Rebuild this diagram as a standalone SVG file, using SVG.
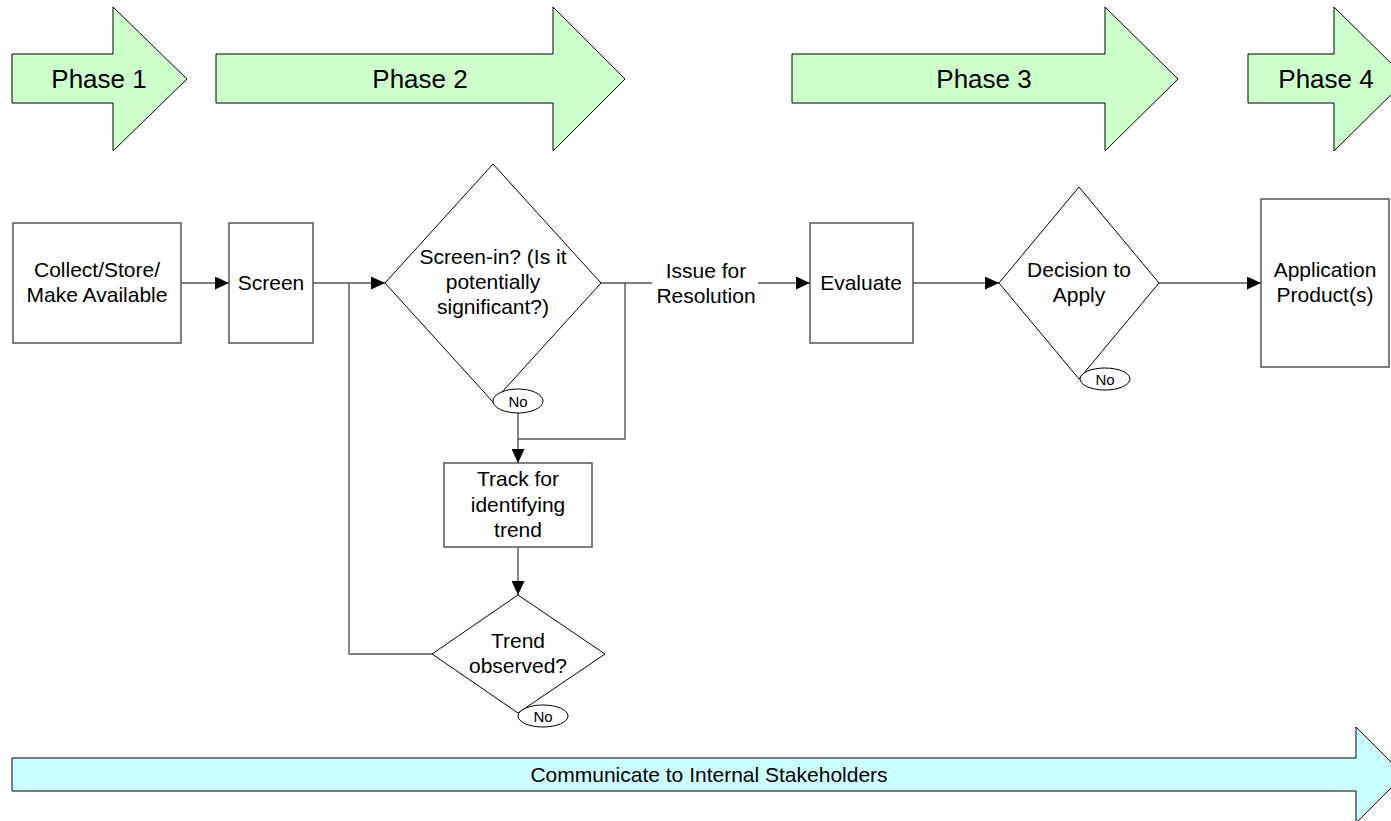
<svg xmlns="http://www.w3.org/2000/svg" width="1391" height="821" viewBox="0 0 1391 821">
  <defs>
    <marker id="ah" markerUnits="userSpaceOnUse" markerWidth="14" markerHeight="13" refX="14" refY="6.5" orient="auto">
      <path d="M0,0 L14,6.5 L0,13 z" fill="#000"/>
    </marker>
    <style>
      text { font-family: "Liberation Sans", Arial, sans-serif; fill: #000; text-anchor: middle; }
      .phase { fill: #ccffcc; stroke: #000; stroke-width: 1; }
      .comm { fill: #ccffff; stroke: #000; stroke-width: 1; }
      .box { fill: #fff; stroke: #555; stroke-width: 1.5; }
      .dia { fill: #fff; stroke: #000; stroke-width: 1; }
      .oval { fill: #fff; stroke: #000; stroke-width: 1; }
      .ph { font-size: 26px; }
      .nt { font-size: 21px; }
      .no { font-size: 15px; }
      .ln { fill: none; stroke: #555; stroke-width: 1.4; }
    </style>
  </defs>
  <rect width="1391" height="821" fill="#fff"/>

  <g id="phase1">
    <polygon class="phase" points="12,54 113,54 113,7 187,79 113,151 113,103 12,103"/>
    <text class="ph" x="99" y="88">Phase 1</text>
  </g>
  <g id="phase2">
    <polygon class="phase" points="216,54 553,54 553,7 625,79 553,151 553,103 216,103"/>
    <text class="ph" x="420" y="88">Phase 2</text>
  </g>
  <g id="phase3">
    <polygon class="phase" points="792,54 1105,54 1105,7 1178,79 1105,151 1105,103 792,103"/>
    <text class="ph" x="984" y="88">Phase 3</text>
  </g>
  <g id="phase4">
    <polygon class="phase" points="1248,54 1334,54 1334,7 1407,79 1334,151 1334,103 1248,103"/>
    <text class="ph" x="1326" y="88">Phase 4</text>
  </g>

  <g id="connectors">
    <line class="ln" x1="181" y1="283" x2="229" y2="283" marker-end="url(#ah)"/>
    <line class="ln" x1="313" y1="283" x2="385" y2="283" marker-end="url(#ah)"/>
    <polyline class="ln" points="432,654 349,654 349,283"/>
    <line class="ln" x1="601" y1="283" x2="652" y2="283"/>
    <line class="ln" x1="758" y1="283" x2="810" y2="283" marker-end="url(#ah)"/>
    <polyline class="ln" points="625,283 625,439 518,439"/>
    <line class="ln" x1="518" y1="413" x2="518" y2="463" marker-end="url(#ah)"/>
    <line class="ln" x1="518" y1="547" x2="518" y2="595" marker-end="url(#ah)"/>
    <line class="ln" x1="913" y1="283" x2="999" y2="283" marker-end="url(#ah)"/>
    <line class="ln" x1="1159" y1="283" x2="1261" y2="283" marker-end="url(#ah)"/>
    <text class="nt" x="706" y="278">Issue for</text>
    <text class="nt" x="706" y="303">Resolution</text>
  </g>

  <g id="collect">
    <rect class="box" x="13" y="223" width="168" height="120"/>
    <text class="nt" x="97" y="277">Collect/Store/</text>
    <text class="nt" x="97" y="302">Make Available</text>
  </g>
  <g id="screen">
    <rect class="box" x="229" y="223" width="84" height="120"/>
    <text class="nt" x="271" y="290">Screen</text>
  </g>
  <g id="screen-in">
    <polygon class="dia" points="493,164 601,283 493,402 385,283"/>
    <text class="nt" x="493" y="264">Screen-in? (Is it</text>
    <text class="nt" x="493" y="289">potentially</text>
    <text class="nt" x="493" y="314">significant?)</text>
    <ellipse class="oval" cx="518" cy="401" rx="25" ry="12"/>
    <text class="no" x="518" y="407">No</text>
  </g>
  <g id="track">
    <rect class="box" x="444" y="463" width="148" height="84"/>
    <text class="nt" x="518" y="486">Track for</text>
    <text class="nt" x="518" y="512">identifying</text>
    <text class="nt" x="518" y="537">trend</text>
  </g>
  <g id="trend">
    <polygon class="dia" points="518,595 605,654 518,713 432,654"/>
    <text class="nt" x="518" y="648">Trend</text>
    <text class="nt" x="518" y="673">observed?</text>
    <ellipse class="oval" cx="543" cy="716" rx="25" ry="11"/>
    <text class="no" x="543" y="722">No</text>
  </g>
  <g id="evaluate">
    <rect class="box" x="810" y="223" width="103" height="120"/>
    <text class="nt" x="861" y="290">Evaluate</text>
  </g>
  <g id="decision">
    <polygon class="dia" points="1079,187 1159,283 1079,379 999,283"/>
    <text class="nt" x="1079" y="277">Decision to</text>
    <text class="nt" x="1079" y="302">Apply</text>
    <ellipse class="oval" cx="1105" cy="379" rx="25" ry="11"/>
    <text class="no" x="1105" y="385">No</text>
  </g>
  <g id="application">
    <rect class="box" x="1261" y="199" width="128" height="168"/>
    <text class="nt" x="1325" y="277">Application</text>
    <text class="nt" x="1325" y="302">Product(s)</text>
  </g>

  <g id="communicate">
    <polygon class="comm" points="12,758 1356,758 1356,727 1404,775 1356,823 1356,791 12,791"/>
    <text class="nt" x="709" y="782">Communicate to Internal Stakeholders</text>
  </g>
</svg>
